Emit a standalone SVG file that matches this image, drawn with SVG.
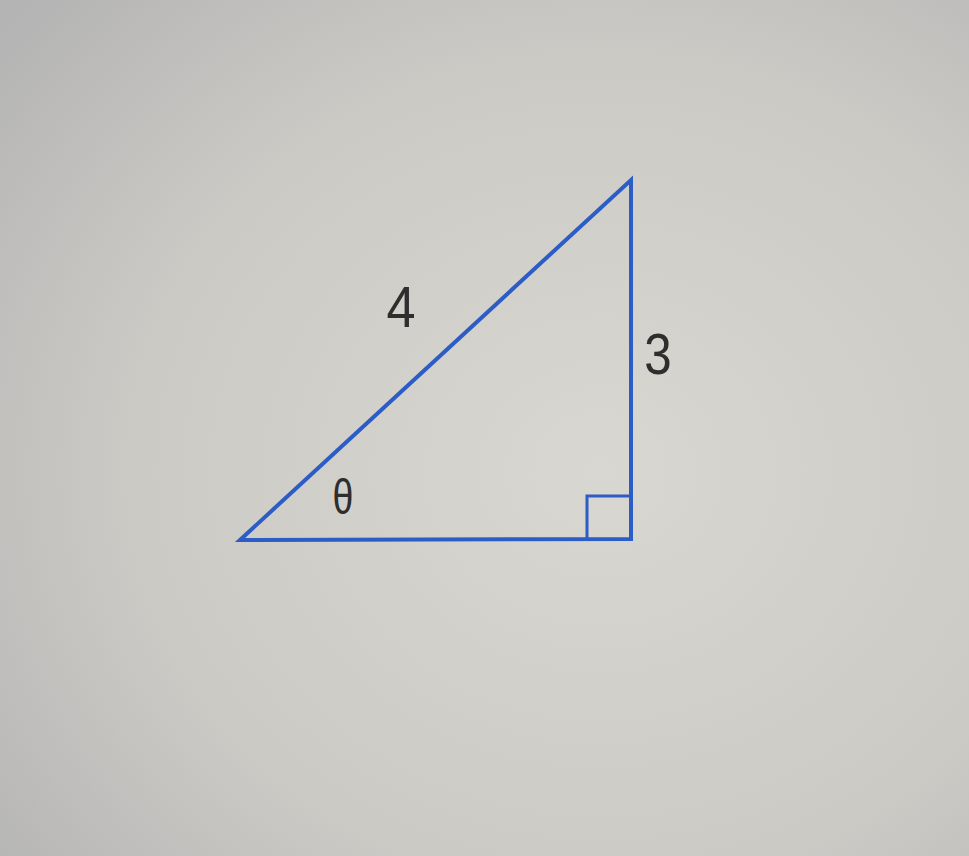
<svg xmlns="http://www.w3.org/2000/svg" width="969" height="856" viewBox="0 0 969 856">
  <defs>
    <radialGradient id="bg" cx="0.62" cy="0.55" r="0.8">
      <stop offset="0" stop-color="#d9d7d1"/>
      <stop offset="0.6" stop-color="#cccac5"/>
      <stop offset="1" stop-color="#b4b4b4"/>
    </radialGradient>
    <style>
      .edge { fill: none; stroke: #2c5cc6; stroke-width: 4; stroke-linejoin: miter; }
      .sq { fill: none; stroke: #2c5cc6; stroke-width: 3; }
      .lbl { font-family: "Liberation Sans", Arial, sans-serif; fill: #2e2e2e; }
    </style>
  </defs>
  <rect width="969" height="856" fill="url(#bg)"/>
  <g id="triangle">
    <polygon class="edge" points="240,540 631,180 631,539"/>
    <polyline class="sq" points="587,539 587,496 631,496"/>
  </g>
  <g id="labels">
    <text class="lbl" x="401" y="327" font-size="58" text-anchor="middle" transform="translate(401 305) scale(0.9 1) translate(-401 -305)">4</text>
    <text class="lbl" x="658" y="374" font-size="58" text-anchor="middle" transform="translate(658 352) scale(0.85 1) translate(-658 -352)">3</text>
    <text class="lbl" x="343" y="514" font-size="50" text-anchor="middle" transform="translate(343 497) scale(0.75 1) translate(-343 -497)">θ</text>
  </g>
</svg>
